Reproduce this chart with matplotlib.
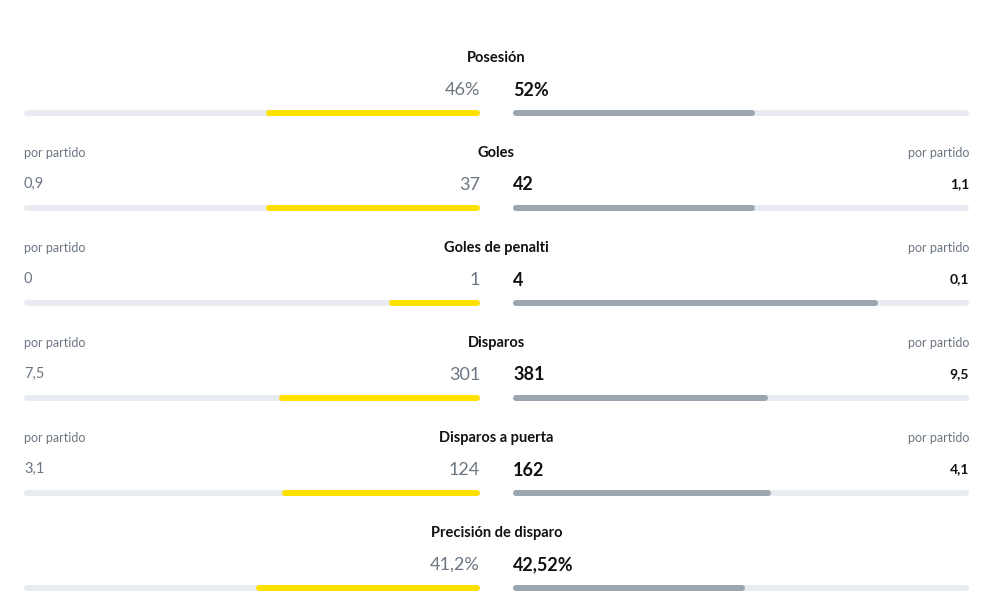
import matplotlib.pyplot as plt

# datos del partido
stats = ["Posesión", "Goles", "Goles de penalti", "Disparos",
         "Disparos a puerta", "Precisión de disparo"]
left_vals = [46, 37, 1, 301, 124, 41.2]
right_vals = [52, 42, 4, 381, 162, 42.52]
left_labels = ["46%", "37", "1", "301", "124", "41,2%"]
right_labels = ["52%", "42", "4", "381", "162", "42,52%"]
left_per_match = [None, "0,9", "0", "7,5", "3,1", None]
right_per_match = [None, "1,1", "0,1", "9,5", "4,1", None]

YELLOW = "#ffe100"
GREY_BAR = "#9ba6b1"
TRACK = "#e8ebef"
GREY_TXT = "#6b7682"

plt.rcParams['font.family'] = ['Lato', 'DejaVu Sans']

W, H = 986, 604
fig = plt.figure(figsize=(W / 100, H / 100), dpi=100)

# ejes: izquierda (invertido) y derecha, en fracción del total
axL = fig.add_axes([24 / W, 0, (480 - 24) / W, 1])
axR = fig.add_axes([513 / W, 0, (969 - 513) / W, 1])
axT = fig.add_axes([0, 0, 1, 1])
for ax in (axL, axR, axT):
    ax.set_ylim(H, 0)
    ax.axis("off")
axL.set_xlim(1, 0)
axR.set_xlim(0, 1)
axT.set_xlim(0, W)

lw = 6 * 72 / 100
cap = 3 / 456  # medio ancho del extremo redondeado

for i, name in enumerate(stats):
    y0 = 58 + 95 * i
    total = left_vals[i] + right_vals[i]
    fl = left_vals[i] / total
    fr = right_vals[i] / total
    by = y0 + 55

    for ax, f, c in ((axL, fl, YELLOW), (axR, fr, GREY_BAR)):
        ax.plot([cap, 1 - cap], [by, by], color=TRACK, lw=lw,
                solid_capstyle="round")
        ax.plot([cap, f - cap], [by, by], color=c, lw=lw,
                solid_capstyle="round")

    axT.text(496.5, y0, name, ha="center", va="center", fontsize=10.5,
             fontweight="bold", color="#111111")
    axT.text(480, y0 + 32, left_labels[i], ha="right", va="center",
             fontsize=13, color=GREY_TXT)
    axT.text(513, y0 + 32, right_labels[i], ha="left", va="center",
             fontsize=13, fontweight="bold", color="#111111")

    if left_per_match[i] is not None:
        axT.text(24, y0, "por partido", ha="left", va="center",
                 fontsize=9, color=GREY_TXT)
        axT.text(969, y0, "por partido", ha="right", va="center",
                 fontsize=9, color=GREY_TXT)
        axT.text(24, y0 + 31, left_per_match[i], ha="left", va="center",
                 fontsize=10.5, color=GREY_TXT)
        axT.text(969, y0 + 31, right_per_match[i], ha="right", va="center",
                 fontsize=10, fontweight="bold", color="#111111")

fig.savefig("out.png", dpi=100)
